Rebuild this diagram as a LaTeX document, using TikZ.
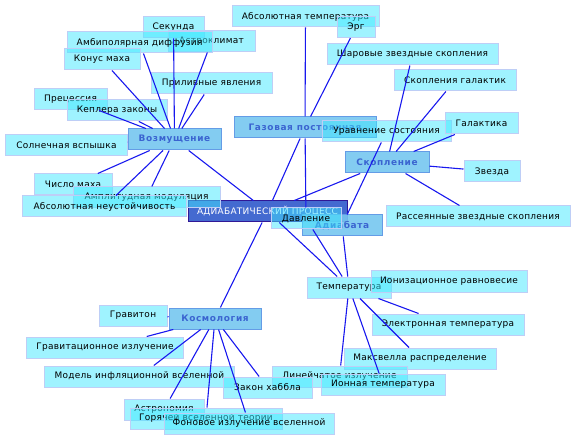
\documentclass[tikz,border=0pt]{standalone}
\usepackage{fontspec}
\setmainfont{DejaVu Sans}
\newfontfamily\leaffont[LetterSpace=3]{DejaVu Sans}
\newfontfamily\catfont[LetterSpace=7]{DejaVu Sans}
\definecolor{mapcyan}{RGB}{64,232,255}
\definecolor{mapedge}{RGB}{190,206,246}
\definecolor{mapsky}{RGB}{118,198,240}
\definecolor{mapskyline}{RGB}{100,156,230}
\definecolor{mapcattext}{RGB}{58,100,208}
\definecolor{maphub}{RGB}{58,98,206}
\definecolor{maphubline}{RGB}{48,24,150}
\definecolor{maplink}{RGB}{24,24,238}

\begin{document}
\begin{tikzpicture}[x=1bp, y=-1bp,
      leaf/.style={draw=mapedge, fill=mapcyan, fill opacity=0.5, text opacity=1, minimum width=#1bp, minimum height=21bp, inner sep=0pt, line width=1bp, font=\leaffont\fontsize{9}{10}\selectfont},
      topic/.style={draw=mapskyline, fill=mapsky, fill opacity=0.9, text opacity=1, text=mapcattext, minimum width=#1bp, minimum height=21bp, inner sep=0pt, line width=1bp, font=\catfont\bfseries\fontsize{9}{10}\selectfont},
      hubbox/.style={draw=maphubline, fill=maphub, fill opacity=0.95, text opacity=1, text=white, minimum width=#1bp, minimum height=21bp, inner sep=0pt, line width=1bp, font=\leaffont\fontsize{9}{10}\selectfont},
      link/.style={draw=maplink, line width=1.1bp}
    ]
      \useasboundingbox (0,0) rectangle (576,440);

      % Hub
      \node[hubbox=159] (hub) at (267.5,211.5) {АДИАБАТИЧЕСКИЙ ПРОЦЕСС};

      % Topic 1: Возмущение
      \node[leaf=61] (sek) at (173.5,27.5) {Секунда};
      \node[leaf=87] (astro) at (211.5,41.5) {Астроклимат};
      \node[leaf=145] (ambi) at (139.5,42.5) {Амбиполярная диффузия};
      \node[leaf=76] (konus) at (102,59.5) {Конус маха};
      \node[leaf=121] (priliv) at (211.5,83.5) {Приливные явления};
      \node[leaf=73] (prec) at (70.5,99.5) {Прецессия};
      \node[leaf=100] (kepler) at (117,110.5) {Кеплера законы};
      \node[leaf=121] (solnce) at (66.5,145.5) {Солнечная вспышка};
      \node[leaf=78] (chislo) at (73,184.5) {Число маха};
      \node[leaf=147] (ampl) at (146.5,197.5) {Амплитудная модуляция};
      \node[leaf=163] (absne) at (104.5,206.5) {Абсолютная неустойчивость};
      \node[topic=93] (vozm) at (174.5,139.5) {Возмущение};

      % Topic 2: Газовая постоянная
      \node[leaf=147] (abst) at (305.5,16.5) {Абсолютная температура};
      \node[leaf=38] (erg) at (356,27) {Эрг};
      \node[topic=142] (gaz) at (305,127.5) {Газовая постоянная};
      \node[leaf=129] (urav) at (386.5,131.5) {Уравнение состояния};

      % Topic 3: Скопление
      \node[leaf=171] (shar) at (412.5,54.5) {Шаровые звездные скопления};
      \node[leaf=122] (skgal) at (455,80.5) {Скопления галактик};
      \node[leaf=73] (galak) at (481.5,123.5) {Галактика};
      \node[leaf=56] (zvezda) at (492,171.5) {Звезда};
      \node[leaf=184] (rass) at (478,216.5) {Рассеянные звездные скопления};
      \node[topic=84] (skop) at (387,162.5) {Скопление};

      % Topic 4: Адиабата
      \node[topic=80] (adb) at (342,225.5) {Адиабата};
      \node[leaf=70] (davl) at (306,218.5) {Давление};
      \node[leaf=84] (temp) at (349,287.5) {Температура};
      \node[leaf=156] (ioniz) at (449,281.5) {Ионизационное равновесие};
      \node[leaf=152] (elek) at (448,324.5) {Электронная температура};
      \node[leaf=152] (maks) at (420,358.5) {Максвелла распределение};
      \node[leaf=135] (lin) at (339.5,376.5) {Линейчатое излучение};
      \node[leaf=124] (ionn) at (383,384.5) {Ионная температура};

      % Topic 5: Космология
      \node[leaf=68] (gravn) at (133,315.5) {Гравитон};
      \node[topic=92] (kosm) at (215,318.5) {Космология};
      \node[leaf=156] (gravi) at (105,347.5) {Гравитационное излучение};
      \node[leaf=189] (model) at (139.5,376.5) {Модель инфляционной вселенной};
      \node[leaf=89] (hab) at (267.5,387.5) {Закон хаббла};
      \node[leaf=80] (astron) at (164,409.5) {Астрономия};
      \node[leaf=152] (gor) at (206,418.5) {Горячей вселенной теории};
      \node[leaf=170] (fon) at (249,423.5) {Фоновое излучение вселенной};

      % Links
      \draw[link] (vozm) -- (sek) (vozm) -- (ambi) (vozm) -- (astro) (vozm) -- (konus)
        (vozm) -- (priliv) (vozm) -- (prec) (vozm) -- (kepler) (vozm) -- (solnce)
        (vozm) -- (chislo) (vozm) -- (ampl) (vozm) -- (absne) (vozm) -- (hub);
      \draw[link] (gaz) -- (abst) (gaz) -- (erg) (gaz) -- (davl) (gaz) -- (hub);
      \draw[link] (skop) -- (shar) (skop) -- (skgal) (skop) -- (galak) (skop) -- (zvezda)
        (skop) -- (rass) (skop) -- (hub);
      \draw[link] (urav) -- (adb) (adb) -- (temp) (davl) -- (temp) (hub) -- (temp);
      \draw[link] (temp) -- (elek) (temp) -- (maks) (temp) -- (ionn) (temp) -- (lin);
      \draw[link] (hub) -- (kosm) (kosm) -- (gravn) (kosm) -- (gravi) (kosm) -- (model)
        (kosm) -- (astron) (kosm) -- (gor) (kosm) -- (fon) (kosm) -- (hab);
    \end{tikzpicture}
\end{document}
